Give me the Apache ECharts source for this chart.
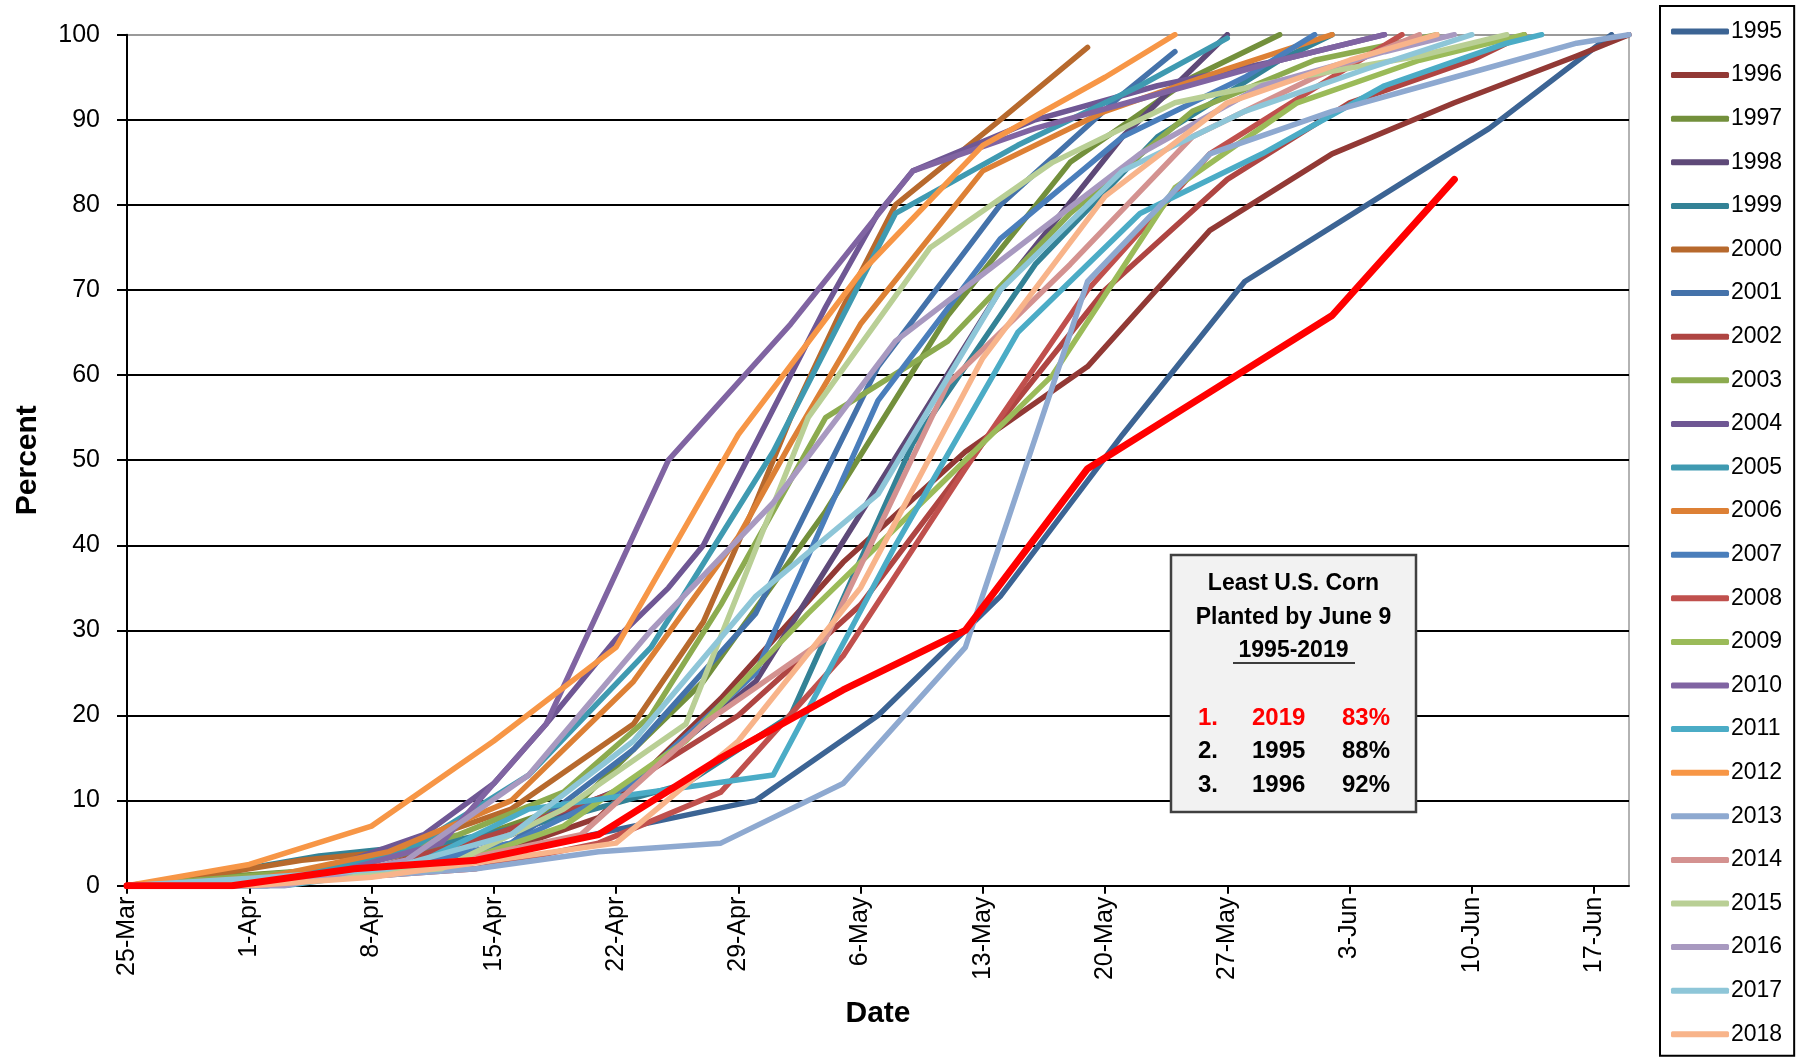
<!DOCTYPE html>
<html><head><meta charset="utf-8">
<script src="https://cdn.jsdelivr.net/npm/echarts@6/dist/echarts.min.js"></script>
<style>html,body{margin:0;padding:0;background:#fff}#c{width:1808px;height:1063px}</style>
</head><body><div id="c"></div>
<script>
// x = days after 25-Mar, y = percent planted
const xTickLabels = ['25-Mar','1-Apr','8-Apr','15-Apr','22-Apr','29-Apr','6-May','13-May','20-May','27-May','3-Jun','10-Jun','17-Jun'];
const yTickValues = [0,10,20,30,40,50,60,70,80,90,100];
const years = ['1995','1996','1997','1998','1999','2000','2001','2002','2003','2004','2005','2006','2007','2008','2009','2010','2011','2012','2013','2014','2015','2016','2017','2018','2019'];

const y1995 = [[0,0],[8,1],[15,2],[22,4],[29,7],[36,10],[43,20],[50,34],[57,53],[64,71],[71,80],[78,89],[85,100]];
const y1996 = [[0,0],[13,1],[20,3],[27,8],[34,22],[41,38],[48,51],[55,61],[62,77],[69,86],[76,92],[83,97.5],[86,100]];
const y1997 = [[0,0],[5,1],[12,2],[19,5],[26,10],[33,24],[40,44],[47,67],[54,85],[61,95],[66,100]];
const y1998 = [[0,0],[8,0],[15,2],[22,6],[29,12],[36,24],[43,47],[50,70],[57,88],[63,100]];
const y1999 = [[0,0],[4,1],[11,3.5],[18,5],[25,8],[32,12],[38,20],[45,52],[52,73],[59,88],[66,97],[69,100]];
const y2000 = [[0,0],[4,1],[10,3],[15,4],[22,9],[29,19],[33,31],[36,45],[38,55],[41,68],[44,80],[50,90],[55,98.5]];
const y2001 = [[0,0],[8,1],[15,2],[22,5],[29,16],[36,32],[43,61],[50,80],[57,93],[60,98]];
const y2002 = [[0,0],[7,1],[14,2],[21,6],[28,11],[35,20],[42,33],[49,52],[56,70],[63,83],[70,92],[77,97],[80,100]];
const y2003 = [[0,0],[12,2],[19,6],[25,11],[30,20],[34,33],[40,55],[47,64],[54,79],[61,91],[68,97],[75,100]];
const y2004 = [[0,0],[10,1],[17,6],[21,12],[24,19],[28,29],[31,35],[33,40],[36,52],[40,68],[43,79],[45,84],[52,90],[59,94],[66,97],[72,100]];
const y2005 = [[0,0],[9,1],[16,4],[23,13],[30,28],[37,51],[44,79],[51,87],[58,94],[63,99.6]];
const y2006 = [[0,0],[8,1],[15,4],[22,10],[29,24],[35,41],[38,52],[42,66],[49,84],[56,91],[63,96],[69,100]];
const y2007 = [[0,0],[8,0],[15,2],[22,5],[29,12],[36,25],[43,57],[50,76],[57,88],[64,95],[68,100]];
const y2008 = [[0,0],[13,1],[20,2],[27,5],[34,11],[41,27],[48,49],[55,70],[62,86],[69,95],[73,100]];
const y2009 = [[0,0],[11,1],[18,2],[25,7],[32,17],[39,32],[46,46],[53,60],[60,82],[67,92],[74,97],[80,100]];
const y2010 = [[0,0],[11,1],[18,5],[24,19],[31,50],[38,66],[45,84],[52,89],[59,93],[66,97],[72,100]];
const y2011 = [[0,0],[9,0],[16,2],[23,9],[30,11],[37,13],[44,40],[51,65],[58,79],[65,86],[72,94],[79,99],[81,100]];
const y2012 = [[0,0],[7,2.5],[14,7],[21,17],[28,28],[35,53],[42,72],[49,87],[56,95],[60,100]];
const y2013 = [[0,0],[13,1],[20,2],[27,4],[34,5],[41,12],[48,28],[55,71],[62,86],[69,91],[76,95],[83,99],[86,100]];
const y2014 = [[0,0],[12,1],[19,3],[26,6],[33,19],[40,29],[47,59],[54,73],[61,88],[68,95],[74,100]];
const y2015 = [[0,0],[11,1],[18,2],[25,9],[32,19],[39,55],[46,75],[53,85],[60,92],[67,95],[74,97.5],[79,100]];
const y2016 = [[0,0],[9,0],[16,3],[23,13],[30,30],[37,45],[44,64],[51,75],[58,86],[65,94],[72,98],[76,100]];
const y2017 = [[0,0],[8,1],[15,2],[22,6],[29,17],[36,34],[43,46],[50,70],[57,84],[64,91],[71,96],[77,100]];
const y2018 = [[0,0],[7,0],[14,1],[21,3],[28,5],[35,17],[42,35],[49,62],[56,81],[63,92],[70,97],[75,100]];
const y2019 = [[0,0],[6,0],[13,2],[20,3],[27,6],[34,15],[41,23],[48,30],[55,49],[62,58],[69,67],[76,83]];

const boxTitle = ['Least U.S. Corn','Planted by June 9','1995-2019'];
const boxRanks = ['1.','2.','3.'];
const boxYears = ['2019','1995','1996'];
const boxPcts = ['83%','88%','92%'];

const values = [y1995,y1996,y1997,y1998,y1999,y2000,y2001,y2002,y2003,y2004,y2005,y2006,y2007,y2008,y2009,y2010,y2011,y2012,y2013,y2014,y2015,y2016,y2017,y2018,y2019];
const colors = ['#3C6494','#923935','#73903C','#5E4978','#338296','#B7692D',
                '#4472AA','#AF4542','#8CAB4F','#6F5794','#3F9AB1','#DD8035',
                '#4A7EBB','#C0504D','#9BBB59','#8064A2','#4BACC6','#F79646',
                '#8EA9D0','#D49290','#B9CF95','#A899C0','#8EC6D8','#F8B48A','#FF0000'];

const FONT = '"Liberation Sans", Arial, sans-serif';
const chart = echarts.init(document.getElementById('c'));

const series = years.map((y, i) => ({
  name: y, type: 'line', data: values[i], symbol: 'none', showSymbol: false,
  lineStyle: { width: y === '2019' ? 7 : 5.5, color: colors[i], cap: 'round', join: 'round' },
  itemStyle: { color: colors[i] }, z: 2 + i * 0.01, animation: false
}));

const xTicks = xTickLabels.map((_, i) => i * 7);
const gridColors = yTickValues.map(v => v === 100 ? '#9A9A9A' : '#000000');

const bx = 1171, by = 555, bw = 245, bh = 257, cx = bx + bw / 2;
const graphics = [
  { type: 'rect', shape: { x: bx, y: by, width: bw, height: bh }, style: { fill: '#F2F2F2', stroke: '#404040', lineWidth: 2.5 }, z: 100 }
];
boxTitle.forEach((t, i) => graphics.push({ type: 'text', z: 101, style: { text: t, x: cx, y: 584 + i * 33.5, textAlign: 'center', textVerticalAlign: 'middle', font: 'bold 23px ' + FONT, fill: '#000' } }));
graphics.push({ type: 'line', z: 101, shape: { x1: 1233, y1: 663, x2: 1355, y2: 663 }, style: { stroke: '#000', lineWidth: 1.5 } });
boxRanks.forEach((t, i) => {
  const col = i === 0 ? '#FF0000' : '#000';
  const yy = 718 + i * 33.5;
  graphics.push({ type: 'text', z: 101, style: { text: t, x: 1198, y: yy, textAlign: 'left', textVerticalAlign: 'middle', font: 'bold 24px ' + FONT, fill: col } });
  graphics.push({ type: 'text', z: 101, style: { text: boxYears[i], x: 1252, y: yy, textAlign: 'left', textVerticalAlign: 'middle', font: 'bold 24px ' + FONT, fill: col } });
  graphics.push({ type: 'text', z: 101, style: { text: boxPcts[i], x: 1342, y: yy, textAlign: 'left', textVerticalAlign: 'middle', font: 'bold 24px ' + FONT, fill: col } });
});

chart.setOption({
  animation: false,
  backgroundColor: '#fff',
  textStyle: { fontFamily: FONT },
  grid: { left: 127, right: 179, top: 34.7, bottom: 177.3, show: true, borderColor: '#9A9A9A', borderWidth: 1.5, containLabel: false },
  legend: {
    data: years.slice(0, 24), orient: 'vertical', left: 1660, top: 6,
    padding: [14, 12, 10, 11], itemGap: 20.6, itemWidth: 58, itemHeight: 6, icon: 'roundRect',
    borderColor: '#000', borderWidth: 2, backgroundColor: '#fff',
    textStyle: { fontSize: 23, color: '#000', fontFamily: FONT, padding: [0, 0, 0, -3] },
    selectedMode: false
  },
  xAxis: {
    type: 'value', min: 0, max: 86, interval: 7,
    name: 'Date', nameLocation: 'middle', nameGap: 113,
    nameTextStyle: { fontSize: 30, fontWeight: 'bold', color: '#000', fontFamily: FONT },
    axisLine: { show: true, onZero: false, lineStyle: { color: '#000', width: 2 } },
    axisTick: { show: true, length: 8, inside: false, customValues: xTicks, lineStyle: { color: '#000', width: 2 } },
    axisLabel: { rotate: 90, margin: 11, fontSize: 25, color: '#000', fontFamily: FONT, customValues: xTicks,
      formatter: v => { const k = Math.round(v / 7); return (v % 7 === 0 && xTickLabels[k]) ? xTickLabels[k] : ''; } },
    splitLine: { show: false }
  },
  yAxis: {
    type: 'value', min: 0, max: 100, interval: 10,
    name: 'Percent', nameLocation: 'middle', nameGap: 84, nameRotate: 90,
    nameTextStyle: { fontSize: 30, fontWeight: 'bold', color: '#000', fontFamily: FONT },
    axisLine: { show: true, lineStyle: { color: '#000', width: 2 } },
    axisTick: { show: true, length: 10, inside: false, lineStyle: { color: '#000', width: 2 } },
    axisLabel: { margin: 27, fontSize: 25, color: '#000', fontFamily: FONT },
    splitLine: { show: true, lineStyle: { color: gridColors, width: 2 } }
  },
  series: series,
  graphic: graphics
});
</script></body></html>
